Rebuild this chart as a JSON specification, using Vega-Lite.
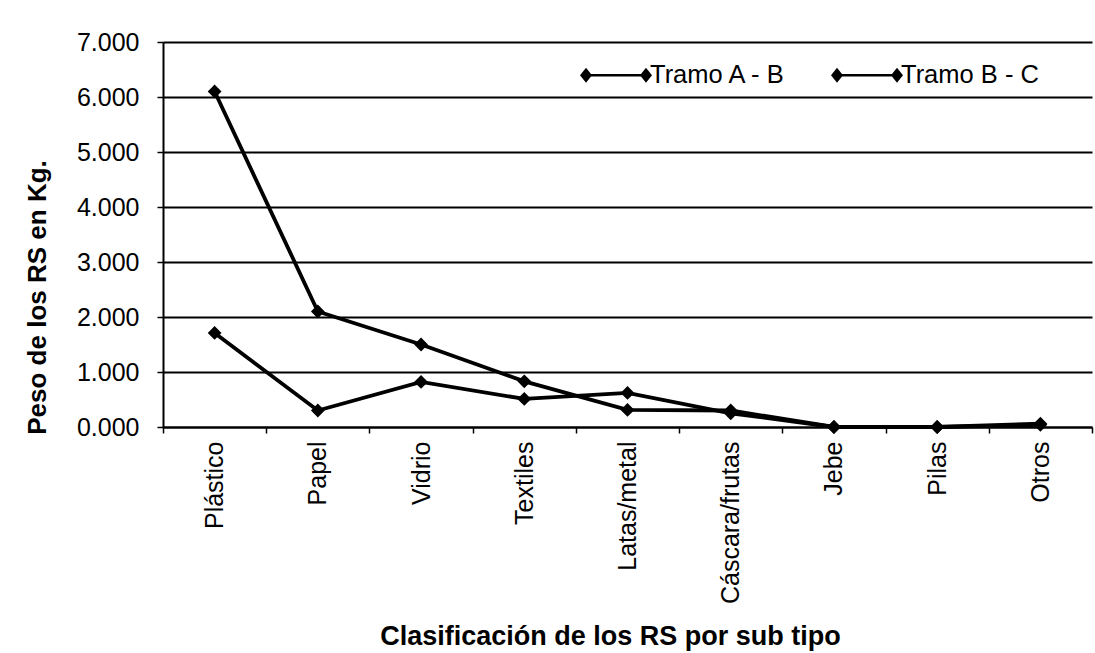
{
  "$schema": "https://vega.github.io/schema/vega-lite/v6.json",
  "width": 929,
  "height": 385,
  "autosize": {"type": "none"},
  "padding": {"left": 163, "top": 42, "right": 3, "bottom": 226},
  "background": "white",
  "config": {
    "font": "Liberation Sans",
    "view": {"stroke": null}
  },
  "data": {
    "values": [
      {"tipo": "Plástico", "tramo": "Tramo A - B", "peso": 6.1},
      {"tipo": "Papel", "tramo": "Tramo A - B", "peso": 2.1},
      {"tipo": "Vidrio", "tramo": "Tramo A - B", "peso": 1.5},
      {"tipo": "Textiles", "tramo": "Tramo A - B", "peso": 0.83},
      {"tipo": "Latas/metal", "tramo": "Tramo A - B", "peso": 0.31},
      {"tipo": "Cáscara/frutas", "tramo": "Tramo A - B", "peso": 0.3},
      {"tipo": "Jebe", "tramo": "Tramo A - B", "peso": 0.0},
      {"tipo": "Pilas", "tramo": "Tramo A - B", "peso": 0.0},
      {"tipo": "Otros", "tramo": "Tramo A - B", "peso": 0.06},
      {"tipo": "Plástico", "tramo": "Tramo B - C", "peso": 1.71},
      {"tipo": "Papel", "tramo": "Tramo B - C", "peso": 0.3},
      {"tipo": "Vidrio", "tramo": "Tramo B - C", "peso": 0.82},
      {"tipo": "Textiles", "tramo": "Tramo B - C", "peso": 0.51},
      {"tipo": "Latas/metal", "tramo": "Tramo B - C", "peso": 0.62},
      {"tipo": "Cáscara/frutas", "tramo": "Tramo B - C", "peso": 0.25},
      {"tipo": "Jebe", "tramo": "Tramo B - C", "peso": 0.0},
      {"tipo": "Pilas", "tramo": "Tramo B - C", "peso": 0.0},
      {"tipo": "Otros", "tramo": "Tramo B - C", "peso": 0.04}
    ]
  },
  "encoding": {
    "x": {
      "field": "tipo",
      "type": "nominal",
      "sort": ["Plástico", "Papel", "Vidrio", "Textiles", "Latas/metal", "Cáscara/frutas", "Jebe", "Pilas", "Otros"],
      "bandPosition": 0.5,
      "scale": {"type": "band", "paddingInner": 0, "paddingOuter": 0},
      "axis": {
        "title": "Clasificación de los RS por sub tipo",
        "labelAngle": -90,
        "labelAlign": "right",
        "labelBaseline": "middle",
        "tickBand": "extent",
        "tickSize": 6,
        "tickWidth": 1.5,
        "tickColor": "black",
        "domainColor": "black",
        "domainWidth": 2,
        "labelFontSize": 25,
        "labelColor": "black",
        "labelPadding": 8,
        "titleFontSize": 27,
        "titleFontWeight": "bold",
        "titleColor": "black",
        "titlePadding": 20,
        "titleX": 447,
        "grid": false
      }
    },
    "y": {
      "field": "peso",
      "type": "quantitative",
      "scale": {"domain": [0, 7]},
      "axis": {
        "values": [0, 1, 2, 3, 4, 5, 6, 7],
        "format": ".3f",
        "title": "Peso de los RS en Kg.",
        "grid": true,
        "gridColor": "black",
        "gridWidth": 2,
        "gridOpacity": 1,
        "tickSize": 6,
        "tickWidth": 1.5,
        "tickColor": "black",
        "domainColor": "black",
        "domainWidth": 2,
        "labelFontSize": 25,
        "labelColor": "black",
        "labelPadding": 18,
        "titleFontSize": 26,
        "titleFontWeight": "bold",
        "titleColor": "black",
        "titlePadding": 26,
        "titleY": 255
      }
    },
    "color": {
      "field": "tramo",
      "type": "nominal",
      "scale": {"range": ["black", "black"]},
      "legend": {
        "title": null,
        "orient": "none",
        "legendX": 423,
        "legendY": 3,
        "direction": "horizontal",
        "columns": 2,
        "columnPadding": 44,
        "symbolType": "M-1.2,0L-1,-0.25L-0.8,0L-1,0.25ZM-1,-0.045L1,-0.045L1,0.045L-1,0.045ZM0.8,0L1,-0.25L1.2,0L1,0.25Z",
        "symbolSize": 3600,
        "symbolStrokeWidth": 0,
        "symbolFillColor": "black",
        "symbolStrokeColor": "black",
        "labelFontSize": 25.5,
        "labelColor": "black",
        "labelOffset": 4
      }
    }
  },
  "layer": [
    {"mark": {"type": "line", "strokeWidth": 3.8}},
    {"mark": {"type": "point", "shape": "diamond", "filled": true, "size": 190, "opacity": 1}}
  ]
}
